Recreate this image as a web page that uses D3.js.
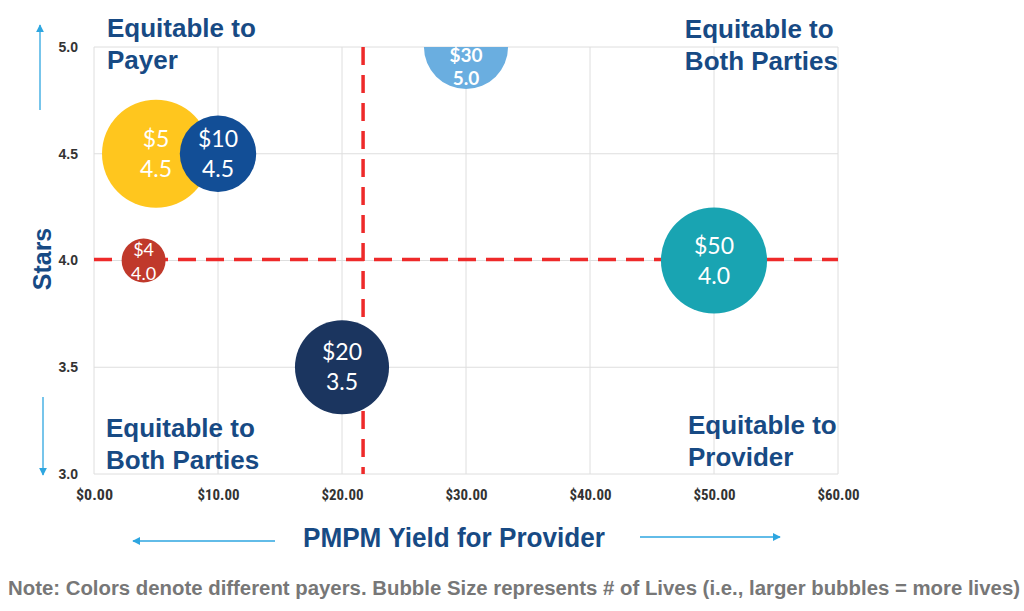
<!DOCTYPE html>
<html><head><meta charset="utf-8">
<script src="https://cdn.jsdelivr.net/npm/d3@7"></script>
<style>body{margin:0;background:#fff}svg{display:block}</style>
</head><body><svg id="c" width="1024" height="611"></svg>
<script>
const payers = ["Payer A","Payer B","Payer C","Payer D","Payer E","Payer F"];
const pmpm  = [5, 10, 4, 30, 20, 50];
const stars = [4.5, 4.5, 4.0, 5.0, 3.5, 4.0];
const lives = [29, 14.5, 4.8, 17.6, 22, 28];
const colors = ["#FFC61E","#124E96","#C0392B","#6AAEE0","#1B355F","#19A4B2"];
const priceLabels = ["$5","$10","$4","$30","$20","$50"];
const starLabels = ["4.5","4.5","4.0","5.0","3.5","4.0"];
const xTicks = [0,10,20,30,40,50,60];
const yTicks = [3.0,3.5,4.0,4.5,5.0];
const thresholdX = 21.7, thresholdY = 4.0;
const quadrantText = [["Equitable to","Payer"],["Equitable to","Both Parties"],["Equitable to","Both Parties"],["Equitable to","Provider"]];
const quadrantX = [1.05, 47.65, 0.97, 47.9];
const quadrantY = [5.045, 5.04, 3.173, 3.187];

const svg = d3.select("#c");
const L=94, R=838, T=47, B=474;
const x = d3.scaleLinear().domain([0,60]).range([L,R]);
const y = d3.scaleLinear().domain([3,5]).range([B,T]);
const r = d3.scaleSqrt().domain([0,d3.max(lives)]).range([0,54]);
const navy = "#174A84";

const defs = svg.append("defs");
defs.append("clipPath").attr("id","pc")
  .append("rect").attr("x",L).attr("y",T).attr("width",R-L).attr("height",B-T);
const m = defs.append("marker").attr("id","ah").attr("viewBox","0 0 10 10")
  .attr("refX",9).attr("refY",5).attr("markerWidth",8).attr("markerHeight",8)
  .attr("markerUnits","userSpaceOnUse").attr("orient","auto");
m.append("path").attr("d","M0,0L10,5L0,10Z").attr("fill","#2EA6E0");

// grid
svg.append("g").selectAll("line").data(xTicks).join("line")
  .attr("x1",d=>x(d)).attr("x2",d=>x(d)).attr("y1",T).attr("y2",B)
  .attr("stroke","#dedede").attr("stroke-width",1);
svg.append("g").selectAll("line").data(yTicks).join("line")
  .attr("x1",L).attr("x2",R).attr("y1",d=>y(d)).attr("y2",d=>y(d))
  .attr("stroke","#dedede").attr("stroke-width",1);

// axes tick labels
const xa = svg.append("g").attr("transform",`translate(0,${B+23})`)
  .call(d3.axisBottom(x).tickValues(xTicks).tickSize(0).tickFormat(d=>"$"+d3.format(".2f")(d)));
xa.select(".domain").remove();
xa.selectAll("text").attr("font-family","'Liberation Sans Narrow','Roboto Condensed','Liberation Sans',Arial")
  .attr("font-weight","bold").attr("font-size",15).attr("fill","#333").attr("dy",0)
  .attr("textLength",d=>d<10?37:42).attr("lengthAdjust","spacingAndGlyphs");
const ya = svg.append("g").attr("transform",`translate(${L-13},0)`)
  .call(d3.axisLeft(y).tickValues(yTicks).tickSize(0).tickFormat(d3.format(".1f")));
ya.select(".domain").remove();
ya.selectAll("text").attr("font-family","'Liberation Sans',Arial").attr("font-weight","bold")
  .attr("font-size",14).attr("fill","#333");

// threshold lines
svg.append("line").attr("x1",L).attr("x2",R).attr("y1",y(thresholdY)-1).attr("y2",y(thresholdY)-1)
  .attr("stroke","#EE2A2A").attr("stroke-width",3.5).attr("stroke-dasharray","18,10");
svg.append("line").attr("x1",x(thresholdX)).attr("x2",x(thresholdX)).attr("y1",T).attr("y2",B)
  .attr("stroke","#EE2A2A").attr("stroke-width",3.5).attr("stroke-dasharray","18,10");

// bubbles
const idx = d3.range(pmpm.length);
const bg = svg.append("g").attr("clip-path","url(#pc)");
bg.selectAll("circle").data(idx).join("circle")
  .attr("cx",i=>x(pmpm[i])).attr("cy",i=>y(stars[i])).attr("r",i=>r(lives[i]))
  .attr("fill",i=>colors[i]);
const lg = svg.append("g").attr("fill","#fff").attr("text-anchor","middle")
  .attr("font-family","Lato,'Open Sans',sans-serif");
idx.forEach(i=>{
  const small = r(lives[i])<30, top = stars[i]===5;
  const fs = small ? 18 : (top ? 19 : 23);
  const cx=x(pmpm[i]), cy=y(stars[i]);
  let b1, b2;
  if (top) { b1 = cy+15; b2 = cy+38; }
  else if (small) { b1 = cy-5; b2 = cy+19; }
  else { b1 = cy-7; b2 = cy+23; }
  const t = lg.append("text").attr("font-size",fs).attr("font-weight",top?"bold":"normal");
  t.append("tspan").attr("x",cx).attr("y",b1).text(priceLabels[i]);
  t.append("tspan").attr("x",cx).attr("y",b2).text(starLabels[i]);
});

// quadrant labels
const q = svg.append("g").attr("fill",navy).attr("font-family","'Liberation Sans',Arial")
  .attr("font-weight","bold").attr("font-size",26);
quadrantText.forEach((lines,k)=>{
  const t=q.append("text");
  lines.forEach((s,j)=>t.append("tspan").attr("x",x(quadrantX[k])).attr("y",y(quadrantY[k])+j*32).text(s));
});

// axis titles
svg.append("text").attr("transform",`translate(51,259) rotate(-90)`)
  .attr("text-anchor","middle").attr("fill",navy).attr("font-family","'Liberation Sans',Arial")
  .attr("font-weight","bold").attr("font-size",25).text("Stars");
svg.append("text").attr("x",303).attr("y",547).attr("textLength",302).attr("lengthAdjust","spacingAndGlyphs")
  .attr("fill",navy).attr("font-family","'Liberation Sans Narrow','Liberation Sans',Arial")
  .attr("font-weight","bold").attr("font-size",27).text("PMPM Yield for Provider");

// arrows
const arrows = [[275,541,133,541],[640,537,780,537],[40,110,40,25],[43,397,43,475]];
svg.append("g").selectAll("line").data(arrows).join("line")
  .attr("x1",d=>d[0]).attr("y1",d=>d[1]).attr("x2",d=>d[2]).attr("y2",d=>d[3])
  .attr("stroke","#2EA6E0").attr("stroke-width",1.3).attr("marker-end","url(#ah)");

// note
svg.append("text").attr("x",8).attr("y",595).attr("textLength",1012).attr("lengthAdjust","spacingAndGlyphs")
  .attr("fill","#777").attr("font-family","'Liberation Sans Narrow','Liberation Sans',Arial")
  .attr("font-weight","bold").attr("font-size",20)
  .text("Note: Colors denote different payers. Bubble Size represents # of Lives (i.e., larger bubbles = more lives)");
</script></body></html>
